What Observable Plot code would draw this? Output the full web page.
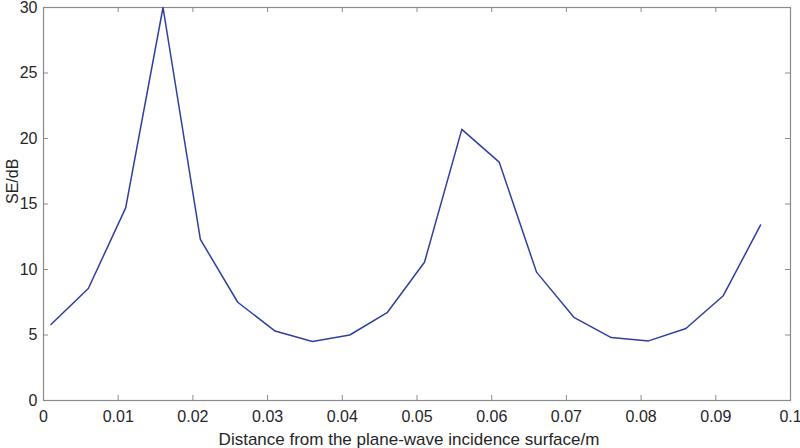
<!DOCTYPE html>
<html>
<head>
<meta charset="utf-8">
<script src="https://cdn.jsdelivr.net/npm/d3@7"></script>
<script src="https://cdn.jsdelivr.net/npm/@observablehq/plot@0.6"></script>
<style>
html,body{margin:0;padding:0;background:#fff;}
</style>
</head>
<body>
<div id="chart"></div>
<script>
const distance = [0.001,0.006,0.011,0.016,0.021,0.026,0.031,0.036,0.041,0.046,0.051,0.056,0.061,0.066,0.071,0.076,0.081,0.086,0.091,0.096];
const se = [5.8,8.55,14.7,30,12.3,7.5,5.3,4.5,5.0,6.7,10.55,20.7,18.2,9.8,6.35,4.8,4.55,5.5,8.0,13.4];
const xTicks = [0,0.01,0.02,0.03,0.04,0.05,0.06,0.07,0.08,0.09,0.1];
const xTickLabels = ["0","0.01","0.02","0.03","0.04","0.05","0.06","0.07","0.08","0.09","0.1"];
const yTicks = [0,5,10,15,20,25,30];
const xLabel = "Distance from the plane-wave incidence surface/m";
const yLabel = "SE/dB";

const data = distance.map((d,i)=>({x:d, y:se[i]}));
const tickLenY = 0.38;   // in y units (~5px)
const tickLenX = 0.00067; // in x units (~5px)
const axisColor = "#8a8a8a";
const textColor = "#262626";

const chart = Plot.plot({
  width: 800,
  height: 448,
  marginLeft: 43,
  marginRight: 10,
  marginTop: 7,
  marginBottom: 48,
  style: {fontFamily: "'Liberation Sans', Arial, sans-serif", fontSize: "16px", color: textColor, background: "#fff", overflow: "visible"},
  x: {domain: [0, 0.1]},
  y: {domain: [0, 30]},
  marks: [
    Plot.axisX({ticks: xTicks, tickSize: 0, tickPadding: 10, tickFormat: (d)=>xTickLabels[xTicks.indexOf(d)], fontSize: 16, fill: textColor, label: null}),
    Plot.axisY({ticks: yTicks, tickSize: 0, tickPadding: 6, fontSize: 16, fill: textColor, label: null}),
    Plot.ruleX(xTicks.slice(1,-1), {x: d=>d, y1: 0, y2: tickLenY, stroke: axisColor}),
    Plot.ruleX(xTicks.slice(1,-1), {x: d=>d, y1: 30 - tickLenY, y2: 30, stroke: axisColor}),
    Plot.ruleY(yTicks.slice(1,-1), {y: d=>d, x1: 0, x2: tickLenX, stroke: axisColor}),
    Plot.ruleY(yTicks.slice(1,-1), {y: d=>d, x1: 0.1 - tickLenX, x2: 0.1, stroke: axisColor}),
    Plot.frame({stroke: axisColor, strokeWidth: 1.2}),
    Plot.line(data, {x: "x", y: "y", stroke: "#2f3f9f", strokeWidth: 1.5}),
    Plot.text([xLabel], {frameAnchor: "bottom", dx: -8, dy: 44, text: d=>d, fontSize: 17, fill: textColor}),
    Plot.text([yLabel], {frameAnchor: "left", dx: -31, rotate: -90, text: d=>d, fontSize: 16, fill: textColor})
  ]
});
document.getElementById("chart").appendChild(chart);
</script>
</body>
</html>
